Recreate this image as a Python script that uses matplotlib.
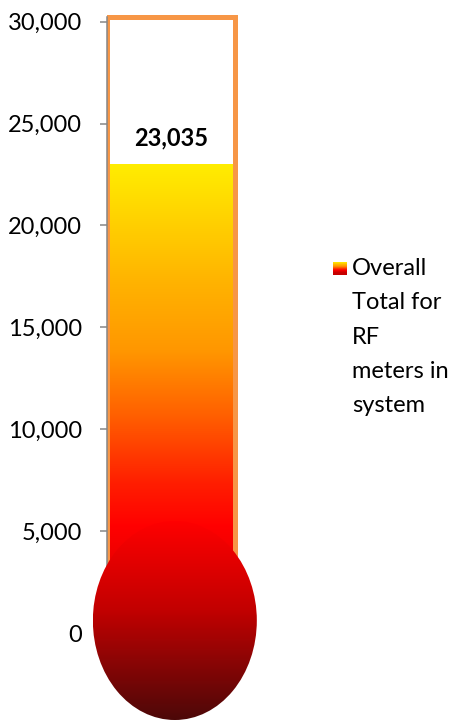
"""
Thermometer chart for the overall RF meter count.
"""

import numpy as np
import matplotlib
matplotlib.use("Agg")
import matplotlib.pyplot as plt
from matplotlib.patches import Ellipse
from matplotlib.colors import LinearSegmentedColormap
from matplotlib.ticker import FuncFormatter

# Data
series_label = "Overall\nTotal for\nRF\nmeters in\nsystem"
meters_total = 23035
tube_capacity = 30250
y_ticks = [0, 5000, 10000, 15000, 20000, 25000, 30000]

plt.rcParams['font.family'] = ['Lato', 'DejaVu Sans']

W, H, DPI = 458, 722, 100
fig = plt.figure(figsize=(W / DPI, H / DPI), dpi=DPI)
ax = fig.add_axes([107 / W, 0, 256 / W, 1])
ax.set_xlim(-0.5, 1.5)
ax.set_ylim(-4367, 31060)

# Fire gradient for the mercury column (value fraction -> colour)
fire = LinearSegmentedColormap.from_list("fire", [
    (0.0, (0.78, 0.0, 0.0)),
    (0.225, (1.0, 0.0, 0.0)),
    (0.32, (1.0, 0.12, 0.0)),
    (0.46, (1.0, 0.37, 0.0)),
    (0.60, (1.0, 0.59, 0.0)),
    (0.745, (1.0, 0.70, 0.0)),
    (1.0, (1.0, 0.93, 0.0)),
])
bulb_cmap = LinearSegmentedColormap.from_list("bulb", [
    (0.0, (0.30, 0.03, 0.03)),
    (0.3, (0.55, 0.02, 0.02)),
    (0.55, (0.76, 0.0, 0.0)),
    (1.0, (1.0, 0.0, 0.0)),
])
grad = np.linspace(0, 1, 256).reshape(-1, 1)

# Mercury column
col = ax.bar(0, meters_total, width=1.0, color='none', edgecolor='none', zorder=2)[0]
x0, w = col.get_x(), col.get_width()
img = ax.imshow(grad, cmap=fire, origin='lower', aspect='auto',
                extent=(x0, x0 + w, 0, meters_total), zorder=2)
img.set_clip_path(col)

# Glass tube outline
ax.bar(0, tube_capacity, width=1.0, fill=False, edgecolor='#F79646',
       linewidth=3.6, zorder=3)

# Bulb (sticks out left of the axes, so clip to the figure + ellipse only)
bx, by, bw, bh = 0.03, 613, 1.281, 9765
bulb = Ellipse((bx, by), width=bw, height=bh, facecolor='none',
               edgecolor='none', zorder=4, clip_on=False)
ax.add_patch(bulb)
bimg = ax.imshow(grad, cmap=bulb_cmap, origin='lower', aspect='auto',
                 extent=(bx - bw / 2, bx + bw / 2, by - bh / 2, by + bh / 2),
                 zorder=4)
bimg.set_clip_box(fig.bbox)
bimg.set_clip_path(bulb)
ax.set_xlim(-0.5, 1.5)
ax.set_ylim(-4367, 31060)

ax.annotate(f"{meters_total:,}", xy=(0, meters_total), xytext=(0, 18.7),
            textcoords='offset points', ha='center', va='center',
            fontsize=17, fontweight='bold', color='black', zorder=5)

# Axes styling
for s in ['top', 'right', 'bottom']:
    ax.spines[s].set_visible(False)
ax.spines['left'].set_color('#868686')
ax.spines['left'].set_linewidth(1.1)
ax.spines['left'].set_bounds(0, tube_capacity)
ax.spines['left'].set_zorder(3.5)
ax.set_xticks([])
ax.set_yticks(y_ticks)
ax.yaxis.set_major_formatter(FuncFormatter(lambda v, p: f"{v:,.0f}"))
ax.tick_params(axis='y', length=5, width=1.1, color='#868686', pad=13,
               labelsize=17, labelcolor='black')
ax.patch.set_alpha(0)

# Legend: gradient swatch + label
sw = fig.add_axes([333 / W, 1 - 275 / H, 14 / W, 13 / H])
sw.imshow(grad, cmap=fire, origin='lower', aspect='auto', vmin=0.2, vmax=1.0)
sw.axis('off')
fig.text(352 / W, 1 - 258 / H, series_label, ha='left', va='top',
         fontsize=17, color='black', linespacing=1.78)

fig.savefig("out.png", dpi=DPI)
